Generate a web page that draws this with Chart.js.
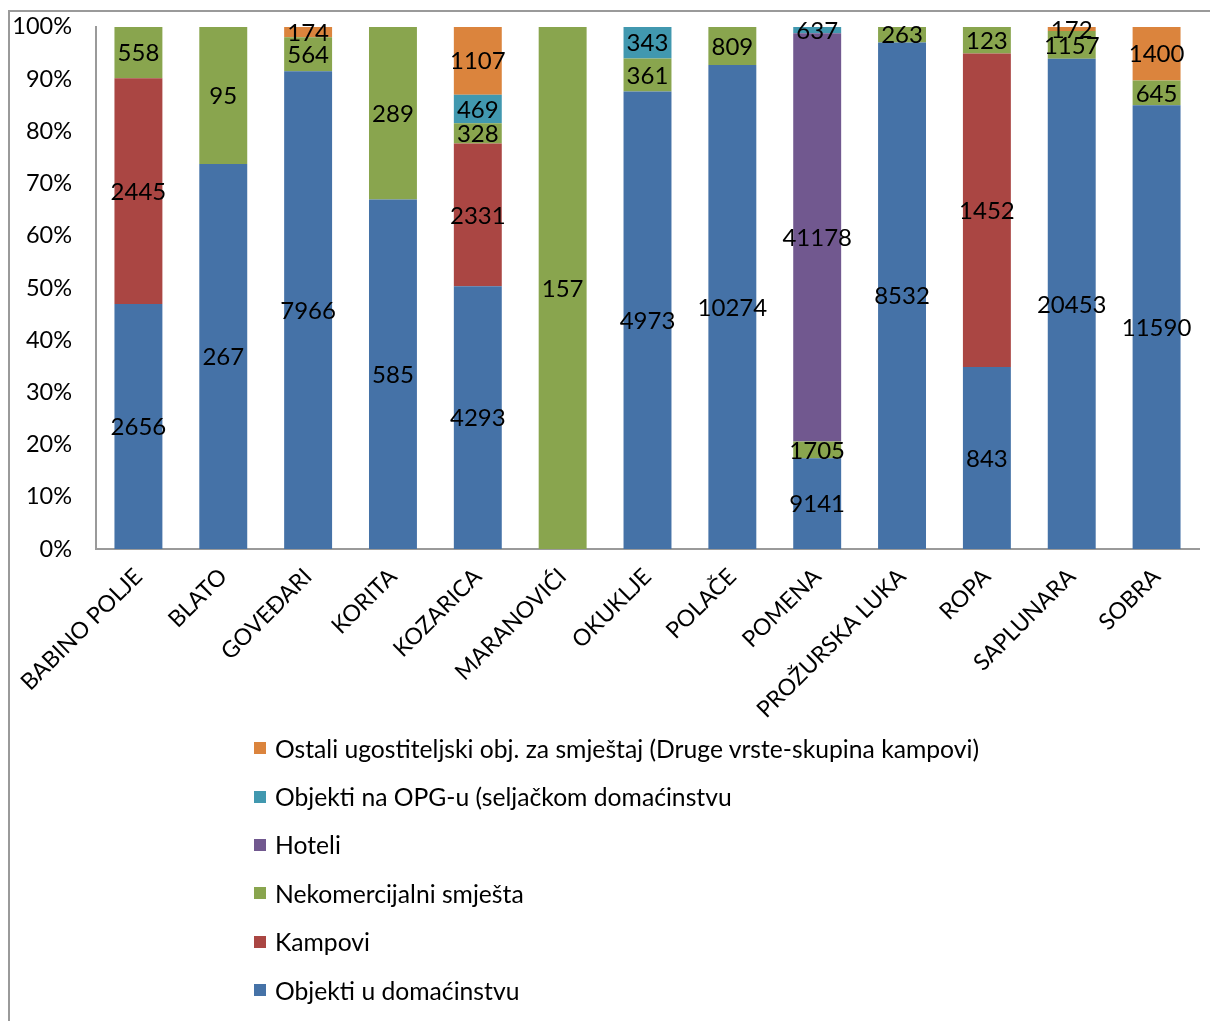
<!DOCTYPE html>
<html>
<head>
<meta charset="utf-8">
<script src="https://cdn.jsdelivr.net/npm/chart.js@4"></script>
<style>
  html, body { margin: 0; padding: 0; background: #fff; }
  #wrap { position: relative; width: 1210px; height: 1021px; overflow: hidden; }
  #c { position: absolute; left: 0; top: -3px; }
  #frame { position: absolute; left: 8px; top: 10px; width: 1210px; height: 1100px; border-left: 2px solid #9a9a9a; border-top: 2px solid #9a9a9a; pointer-events: none; }
  #legend { position: absolute; left: 254px; top: 724px; font-family: Lato, "Open Sans", sans-serif; font-size: 24.7px; color: #000; }
  #legend .item { height: 48.4px; display: flex; align-items: center; }
  #legend .box { width: 12px; height: 12px; margin-right: 9px; }
</style>
</head>
<body>
<div id="wrap">
  <canvas id="c" width="1210" height="1021"></canvas>
  <div id="frame"></div>
  <div id="legend"></div>
</div>
<script>
const categories = ["BABINO POLJE", "BLATO", "GOVEĐARI", "KORITA", "KOZARICA", "MARANOVIĆI", "OKUKLJE", "POLAČE", "POMENA", "PROŽURSKA LUKA", "ROPA", "SAPLUNARA", "SOBRA"];
const seriesNames = ["Objekti u domaćinstvu", "Kampovi", "Nekomercijalni smješta", "Hoteli", "Objekti na OPG-u (seljačkom domaćinstvu", "Ostali ugostiteljski obj. za smještaj (Druge vrste-skupina kampovi)"];
const objektiDomacinstvo = [2656, 267, 7966, 585, 4293, 0, 4973, 10274, 9141, 8532, 843, 20453, 11590];
const kampovi            = [2445, 0, 0, 0, 2331, 0, 0, 0, 0, 0, 1452, 0, 0];
const nekomercijalni     = [558, 95, 564, 289, 328, 157, 361, 809, 1705, 263, 123, 1157, 645];
const hoteli             = [0, 0, 0, 0, 0, 0, 0, 0, 41178, 0, 0, 0, 0];
const objektiOPG         = [0, 0, 0, 0, 469, 0, 343, 0, 637, 0, 0, 0, 0];
const ostali             = [0, 0, 174, 0, 1107, 0, 0, 0, 0, 0, 0, 172, 1400];
const yTicks = [0, 10, 20, 30, 40, 50, 60, 70, 80, 90, 100];

const colors = ["#4572A7", "#AA4643", "#89A54E", "#71588F", "#4198AF", "#DB843D"];
const rawSeries = [objektiDomacinstvo, kampovi, nekomercijalni, hoteli, objektiOPG, ostali];
const totals = categories.map((_, i) => rawSeries.reduce((s, arr) => s + arr[i], 0));

const FONT = 'Lato, "Open Sans", sans-serif';

const datasets = rawSeries.map((arr, k) => ({
  label: seriesNames[k],
  data: arr.map((v, i) => totals[i] ? v / totals[i] * 100 : 0),
  raw: arr,
  backgroundColor: colors[k],
  borderWidth: 0,
  categoryPercentage: 1.0,
  barPercentage: 0.565
}));

const valueLabels = {
  id: 'valueLabels',
  afterDatasetsDraw(chart) {
    const ctx = chart.ctx;
    ctx.save();
    ctx.font = '24px ' + FONT;
    ctx.fillStyle = '#000';
    ctx.textAlign = 'center';
    ctx.textBaseline = 'middle';
    chart.data.datasets.forEach((ds, di) => {
      const meta = chart.getDatasetMeta(di);
      meta.data.forEach((el, i) => {
        const v = ds.raw[i];
        if (!v) return;
        ctx.fillText(String(v), el.x, (el.y + el.base) / 2 + 1);
      });
    });
    ctx.restore();
  }
};

const chart = new Chart(document.getElementById('c'), {
  type: 'bar',
  data: { labels: categories, datasets },
  options: {
    responsive: false,
    animation: false,
    layout: { padding: { top: 24, right: 11, left: 0, bottom: 0 } },
    plugins: { legend: { display: false }, tooltip: { enabled: false } },
    scales: {
      x: {
        stacked: true,
        grid: { display: false, drawTicks: false },
        border: { display: true, color: '#9a9a9a', width: 2 },
        ticks: { color: '#000', font: { family: FONT, size: 23 }, minRotation: 45, maxRotation: 45, padding: 14, autoSkip: false },
        afterFit(s) { s.height = 1021 - 549 - 3; }
      },
      y: {
        stacked: true,
        min: 0, max: 100,
        afterBuildTicks(s) { s.ticks = yTicks.map(v => ({ value: v })); },
        grid: { display: false, drawTicks: false },
        border: { display: true, color: '#9a9a9a', width: 2 },
        ticks: { color: '#000', font: { family: FONT, size: 23.5, lineHeight: 0.5 }, padding: 24, callback: v => v + '%' },
        afterFit(s) { s.width = 96; }
      }
    }
  },
  plugins: [valueLabels]
});

// HTML legend built from chart datasets (reverse order, as in the reference)
const legendEl = document.getElementById('legend');
chart.data.datasets.slice().reverse().forEach(ds => {
  const item = document.createElement('div');
  item.className = 'item';
  const box = document.createElement('span');
  box.className = 'box';
  box.style.background = ds.backgroundColor;
  const txt = document.createElement('span');
  txt.textContent = ds.label;
  item.appendChild(box);
  item.appendChild(txt);
  legendEl.appendChild(item);
});
</script>
</body>
</html>
